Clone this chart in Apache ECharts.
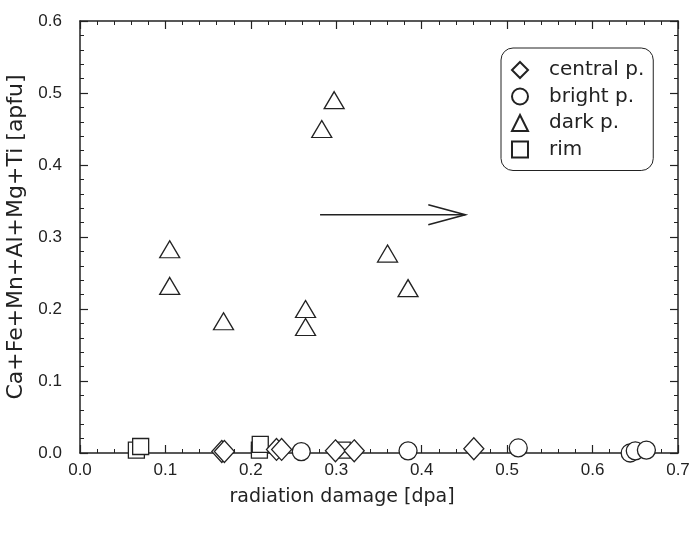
<!DOCTYPE html>
<html>
<head>
<meta charset="utf-8">
<script src="https://cdn.jsdelivr.net/npm/echarts@6/dist/echarts.min.js"></script>
<style>
html, body { margin: 0; padding: 0; background: #fff; }
#chart { width: 695px; height: 534px; }
</style>
</head>
<body>
<div id="chart"></div>
<script>
// values (x = radiation damage [dpa], y = apfu)
var centralX = [0.166, 0.169, 0.230, 0.236, 0.299, 0.321, 0.461];
var centralY = [0.002, 0.002, 0.005, 0.005, 0.003, 0.003, 0.006];
var brightX = [0.259, 0.384, 0.513, 0.644, 0.650, 0.663];
var brightY = [0.002, 0.003, 0.007, 0.000, 0.003, 0.004];
var darkX = [0.105, 0.105, 0.168, 0.264, 0.264, 0.283, 0.2975, 0.360, 0.384];
var darkY = [0.283, 0.232, 0.183, 0.200, 0.175, 0.450, 0.490, 0.277, 0.229];
var rimX = [0.066, 0.071, 0.210, 0.211, 0.307];
var rimY = [0.004, 0.009, 0.004, 0.012, 0.004];
var arrowFrom = [0.281, 0.331];
var arrowTo = [0.451, 0.331];

function pairs(xs, ys) {
	return xs.map(function (x, i) { return [x, ys[i]]; });
}

var chart = echarts.init(document.getElementById('chart'));
var ink = '#222';
var tickFont = { fontFamily: 'Liberation Sans, Arial', fontSize: 17, color: ink };
var nameFont = 'DejaVu Sans, Liberation Sans';

function mkScatter(name, symbol, size, xs, ys) {
	return {
		name: name,
		type: 'scatter',
		symbol: symbol,
		symbolSize: size,
		itemStyle: { color: '#fff', borderColor: ink, borderWidth: 1.3, opacity: 1 },
		data: pairs(xs, ys)
	};
}

// shared frame styling: ticks point inward on all four sides
function frame(extra) {
	return Object.assign({
		type: 'value',
		axisLine: { onZero: false, lineStyle: { color: ink, width: 1.5 } },
		axisTick: { inside: true, length: 8, lineStyle: { color: ink, width: 1.2 } },
		minorTick: { show: true, splitNumber: 5, length: 4, lineStyle: { color: ink, width: 1 } },
		splitLine: { show: false }
	}, extra);
}

var option = {
	animation: false,
	grid: { left: 80, right: 17, top: 21, bottom: 81, outerBoundsMode: 'none', containLabel: false },
	legend: {
		orient: 'vertical',
		left: 501,
		top: 48,
		padding: [12, 9, 11, 10],
		itemWidth: 16,
		itemHeight: 16,
		itemGap: 6.5,
		borderColor: ink,
		borderWidth: 1,
		borderRadius: 12,
		textStyle: { fontFamily: nameFont, fontSize: 20, lineHeight: 16, color: ink, padding: [0, 0, 0, 16] },
		data: ['central p.', 'bright p.', 'dark p.', 'rim']
	},
	xAxis: [frame({
		min: 0, max: 0.7, interval: 0.1,
		name: 'radiation damage [dpa]', nameLocation: 'middle', nameGap: 35,
		nameTextStyle: { fontFamily: nameFont, fontSize: 19, color: ink, padding: [0, 74, 0, 0] },
		axisLabel: Object.assign({ margin: 9, formatter: function (v) { return v.toFixed(1); } }, tickFont)
	}), frame({
		min: 0, max: 0.7, interval: 0.1, position: 'top',
		axisLabel: { show: false }
	})],
	yAxis: [frame({
		min: 0, max: 0.6, interval: 0.1,
		name: 'Ca+Fe+Mn+Al+Mg+Ti [apfu]', nameLocation: 'middle', nameGap: 44,
		nameTextStyle: { fontFamily: nameFont, fontSize: 22, color: ink },
		axisLabel: Object.assign({ margin: 18, formatter: function (v) { return v.toFixed(1); } }, tickFont)
	}), frame({
		min: 0, max: 0.6, interval: 0.1, position: 'right',
		axisLabel: { show: false }
	})],
	series: [
		mkScatter('rim', 'rect', 16, rimX, rimY),
		mkScatter('central p.', 'diamond', [20, 22], centralX, centralY),
		mkScatter('bright p.', 'circle', 18, brightX, brightY),
		mkScatter('dark p.', 'triangle', [20, 17], darkX, darkY),
		{
			type: 'custom',
			silent: true,
			data: [[arrowFrom[0], arrowFrom[1], arrowTo[0], arrowTo[1]]],
			renderItem: function (params, api) {
				var a = api.coord([api.value(0), api.value(1)]);
				var b = api.coord([api.value(2), api.value(3)]);
				var st = { stroke: ink, lineWidth: 1.6, fill: null };
				return {
					type: 'group',
					children: [
						{ type: 'line', shape: { x1: a[0], y1: a[1], x2: b[0], y2: b[1] }, style: st },
						{ type: 'polyline', shape: { points: [[b[0] - 37, b[1] - 10], [b[0], b[1]], [b[0] - 37, b[1] + 10]] }, style: st }
					]
				};
			}
		}
	]
};
chart.setOption(option);
</script>
</body>
</html>
